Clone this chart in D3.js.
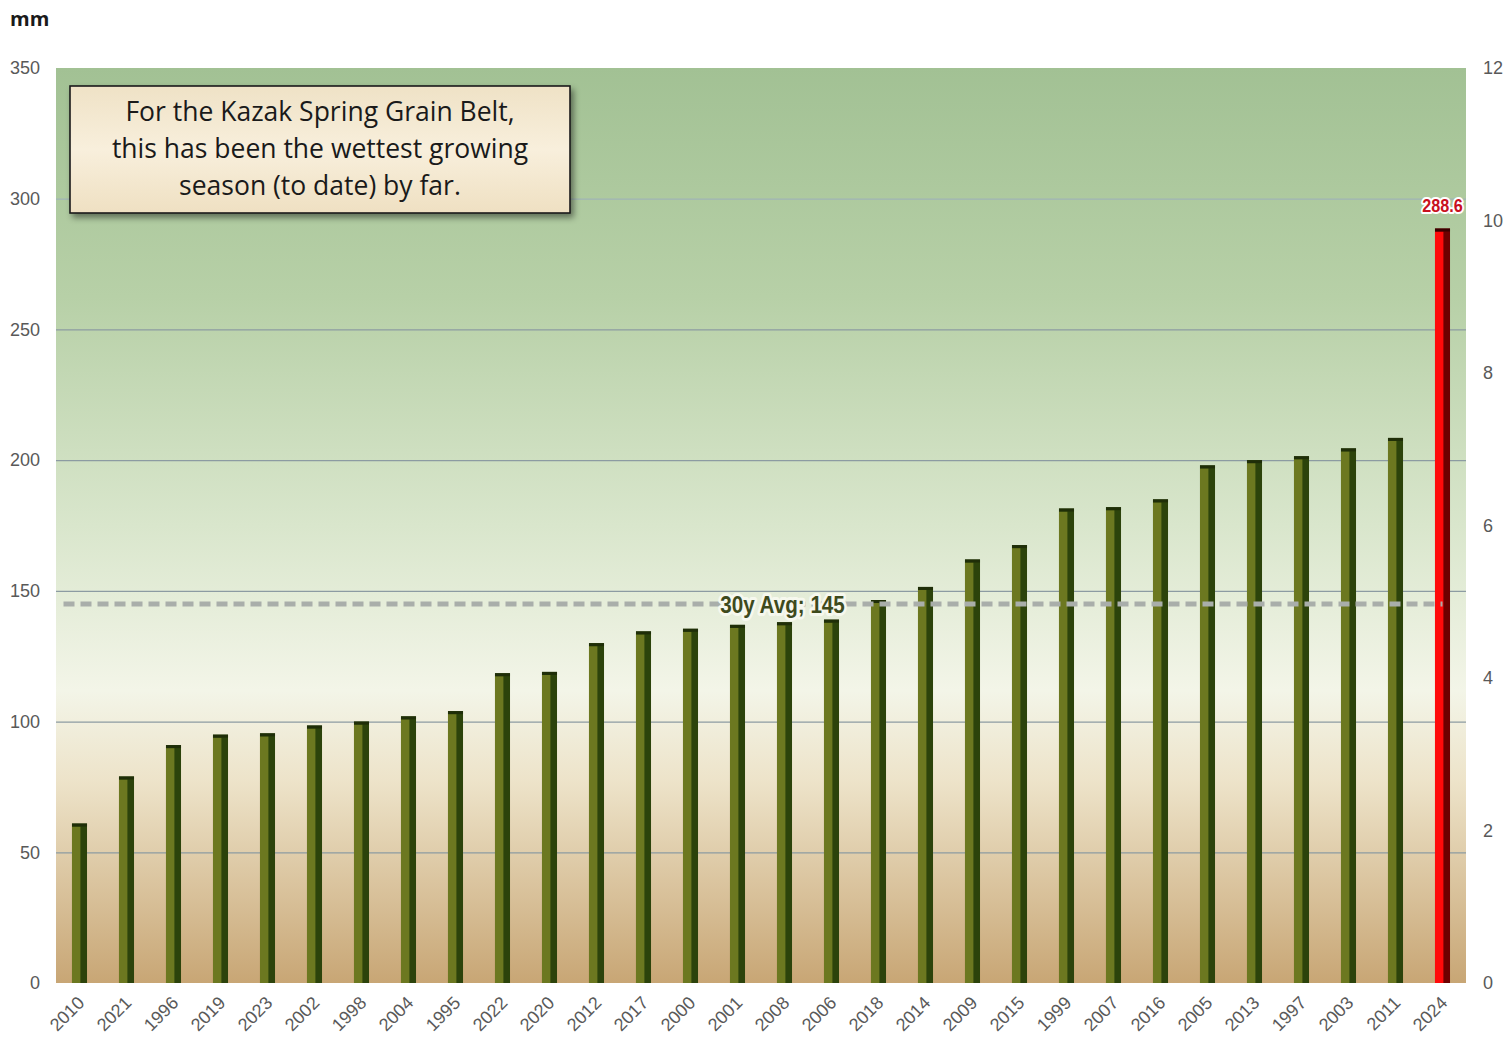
<!DOCTYPE html>
<html>
<head>
<meta charset="utf-8">
<script src="https://cdn.jsdelivr.net/npm/d3@7"></script>
<style>
  body { margin: 0; background: #fff; }
  svg text { font-family: "Open Sans", "Noto Sans", sans-serif; }
</style>
</head>
<body>
<svg class="chart" width="1505" height="1046"></svg>
<script>
var years = ["2010","2021","1996","2019","2023","2002","1998","2004","1995","2022",
             "2020","2012","2017","2000","2001","2008","2006","2018","2014","2009",
             "2015","1999","2007","2016","2005","2013","1997","2003","2011","2024"];
var rainfall = [61, 79, 91, 95, 95.5, 98.5, 100, 102, 104, 118.5,
                119, 130, 134.5, 135.5, 137, 138, 139, 146.5, 151.5, 162,
                167.5, 181.5, 182, 185, 198, 200, 201.5, 204.5, 208.5, 288.6];
var leftTicks = [0, 50, 100, 150, 200, 250, 300, 350];
var rightTicks = [0, 2, 4, 6, 8, 10, 12];
var avg30 = 145;
var highlightYear = "2024";

(function() {
  var margin = {top: 68, right: 39, bottom: 63, left: 56};

  var svg = d3.select(".chart"),
      svgWidth = +svg.attr("width"),
      svgHeight = +svg.attr("height"),
      width = svgWidth - margin.left - margin.right,
      height = svgHeight - margin.top - margin.bottom;

  var defs = svg.append("defs");

  var bg = defs.append("linearGradient")
    .attr("id", "bg").attr("x1", 0).attr("y1", 0).attr("x2", 0).attr("y2", 1);
  bg.append("stop").attr("offset", "0%").attr("stop-color", "#a2c194");
  bg.append("stop").attr("offset", "25%").attr("stop-color", "#b7d0a7");
  bg.append("stop").attr("offset", "50%").attr("stop-color", "#d9e6cc");
  bg.append("stop").attr("offset", "68%").attr("stop-color", "#f3f5e8");
  bg.append("stop").attr("offset", "78%").attr("stop-color", "#ede3c9");
  bg.append("stop").attr("offset", "100%").attr("stop-color", "#c8a675");

  var box = defs.append("linearGradient")
    .attr("id", "boxfill").attr("x1", 0).attr("y1", 0).attr("x2", 0).attr("y2", 1);
  box.append("stop").attr("offset", "0%").attr("stop-color", "#efe2c6");
  box.append("stop").attr("offset", "50%").attr("stop-color", "#f8efdc");
  box.append("stop").attr("offset", "100%").attr("stop-color", "#efe0c2");

  var shadow = defs.append("filter").attr("id", "shadow")
    .attr("x", "-10%").attr("y", "-10%").attr("width", "120%").attr("height", "130%");
  shadow.append("feDropShadow").attr("dx", 3).attr("dy", 4)
    .attr("stdDeviation", 3).attr("flood-color", "#000").attr("flood-opacity", 0.45);

  var chart = svg.append("g")
    .attr("transform", "translate(" + margin.left + "," + margin.top + ")");

  var xScale = d3.scaleBand()
    .domain(years)
    .range([0, width])
    .paddingInner(0.68)
    .paddingOuter(0.34);

  var yScale = d3.scaleLinear()
    .domain([0, 350])
    .range([height, 0]);

  var yRight = d3.scaleLinear()
    .domain([0, 12])
    .range([height, 0]);

  chart.append("rect")
    .attr("width", width)
    .attr("height", height)
    .attr("fill", "url(#bg)");

  // grid lines
  chart.selectAll(".grid")
    .data(leftTicks.filter(function(d) { return d > 0 && d < 350; }))
    .enter().append("line")
    .attr("x1", 0).attr("x2", width)
    .attr("y1", function(d) { return yScale(d) + 0.5; })
    .attr("y2", function(d) { return yScale(d) + 0.5; })
    .attr("stroke", function(d) { return d === 300 ? "#9fb3b6" : "#8c9ba2"; })
    .attr("stroke-width", 1.2);

  // bars, with a darker side face to mimic the 3d look
  var bw = xScale.bandwidth();
  var frontW = bw * 0.56;

  var bar = chart.selectAll(".bar")
    .data(rainfall)
    .enter().append("g")
    .attr("transform", function(d, i) { return "translate(" + xScale(years[i]) + ",0)"; });

  bar.append("rect")
    .attr("y", function(d) { return yScale(d); })
    .attr("height", function(d) { return height - yScale(d); })
    .attr("width", bw)
    .attr("fill", function(d, i) { return years[i] === highlightYear ? "#6e0000" : "#2c430b"; });

  bar.append("rect")
    .attr("y", function(d) { return yScale(d) + 3; })
    .attr("height", function(d) { return height - yScale(d) - 3; })
    .attr("width", frontW)
    .attr("fill", function(d, i) { return years[i] === highlightYear ? "#ff0a0a" : "#6c7820"; });

  bar.append("rect")
    .attr("y", function(d) { return yScale(d); })
    .attr("height", 3)
    .attr("width", bw)
    .attr("fill", function(d, i) { return years[i] === highlightYear ? "#3a0000" : "#1f2e08"; });

  // 30-year average
  var avgY = yScale(avg30);
  chart.append("line")
    .attr("x1", xScale(years[0]) + bw / 2 - 16)
    .attr("x2", xScale(years[years.length - 1]) + bw / 2)
    .attr("y1", avgY).attr("y2", avgY)
    .attr("stroke", "#a9aeaa")
    .attr("stroke-width", 5)
    .attr("stroke-dasharray", "11,6");

  // condensed look: squeeze the label horizontally
  var avgX = xScale("2008") + bw / 2 - 2;
  var avgG = chart.append("g")
    .attr("transform", "translate(" + avgX + "," + (avgY + 9) + ") scale(0.86,1)");
  avgG.append("text")
    .attr("text-anchor", "middle")
    .style("font-family", "'Liberation Sans', sans-serif")
    .style("font-size", "24px")
    .style("font-weight", "bold")
    .attr("fill", "none").attr("stroke", "#f6f8ee").attr("stroke-width", 6)
    .attr("stroke-linejoin", "round")
    .text("30y Avg; " + avg30);
  avgG.append("text")
    .attr("text-anchor", "middle")
    .style("font-family", "'Liberation Sans', sans-serif")
    .style("font-size", "24px")
    .style("font-weight", "bold")
    .attr("fill", "#3e4a1c")
    .text("30y Avg; " + avg30);

  // value label on the record year
  var hi = years.indexOf(highlightYear);
  var valG = chart.append("g")
    .attr("transform", "translate(" + (xScale(highlightYear) + bw / 2) + "," +
          (yScale(rainfall[hi]) - 17) + ") scale(0.9,1)");
  valG.append("text")
    .attr("text-anchor", "middle")
    .style("font-family", "'Liberation Sans', sans-serif")
    .style("font-size", "18px")
    .style("font-weight", "bold")
    .attr("fill", "none").attr("stroke", "#fff").attr("stroke-width", 4)
    .attr("stroke-linejoin", "round")
    .text(rainfall[hi]);
  valG.append("text")
    .attr("text-anchor", "middle")
    .style("font-family", "'Liberation Sans', sans-serif")
    .style("font-size", "18px")
    .style("font-weight", "bold")
    .attr("fill", "#c8101e")
    .text(rainfall[hi]);

  // left axis
  var yAxis = d3.axisLeft(yScale).tickValues(leftTicks).tickSize(0).tickPadding(16);
  var gl = chart.append("g").call(yAxis);
  gl.select(".domain").remove();
  gl.selectAll("text")
    .attr("fill", "#595959")
    .style("font-family", "'Liberation Sans', sans-serif")
    .style("font-size", "18px");

  // right axis
  var yAxisR = d3.axisRight(yRight).tickValues(rightTicks).tickSize(0).tickPadding(17);
  var gr = chart.append("g").attr("transform", "translate(" + width + ",0)").call(yAxisR);
  gr.select(".domain").remove();
  gr.selectAll("text")
    .attr("fill", "#595959")
    .style("font-family", "'Liberation Sans', sans-serif")
    .style("font-size", "18px");

  // x axis, rotated year labels
  var xAxis = d3.axisBottom(xScale).tickSize(0).tickPadding(0);
  var gx = chart.append("g").attr("transform", "translate(0," + height + ")").call(xAxis);
  gx.select(".domain").remove();
  gx.selectAll("text")
    .attr("fill", "#595959")
    .attr("text-anchor", "end")
    .attr("dy", null)
    .attr("transform", "translate(6,21) rotate(-45)")
    .attr("y", 0)
    .style("font-family", "'Liberation Sans', sans-serif")
    .style("font-size", "18px");

  // units
  svg.append("text")
    .attr("x", 10).attr("y", 26)
    .style("font-size", "20px")
    .style("font-weight", "bold")
    .attr("fill", "#1a1a1a")
    .text("mm");

  // annotation box
  var note = svg.append("g").attr("transform", "translate(70,86)");
  note.append("rect")
    .attr("width", 500).attr("height", 127)
    .attr("fill", "url(#boxfill)")
    .attr("stroke", "#1a1a1a").attr("stroke-width", 1.6)
    .attr("filter", "url(#shadow)");
  var noteLines = ["For the Kazak Spring Grain Belt,",
                   "this has been the wettest growing",
                   "season (to date) by far."];
  note.selectAll(".nl")
    .data(noteLines)
    .enter().append("text")
    .attr("x", 250)
    .attr("y", function(d, i) { return 35 + i * 37; })
    .attr("text-anchor", "middle")
    .attr("fill", "#1a1a1a")
    .style("font-size", "26.5px")
    .text(function(d) { return d; });
})();
</script>
</body>
</html>
